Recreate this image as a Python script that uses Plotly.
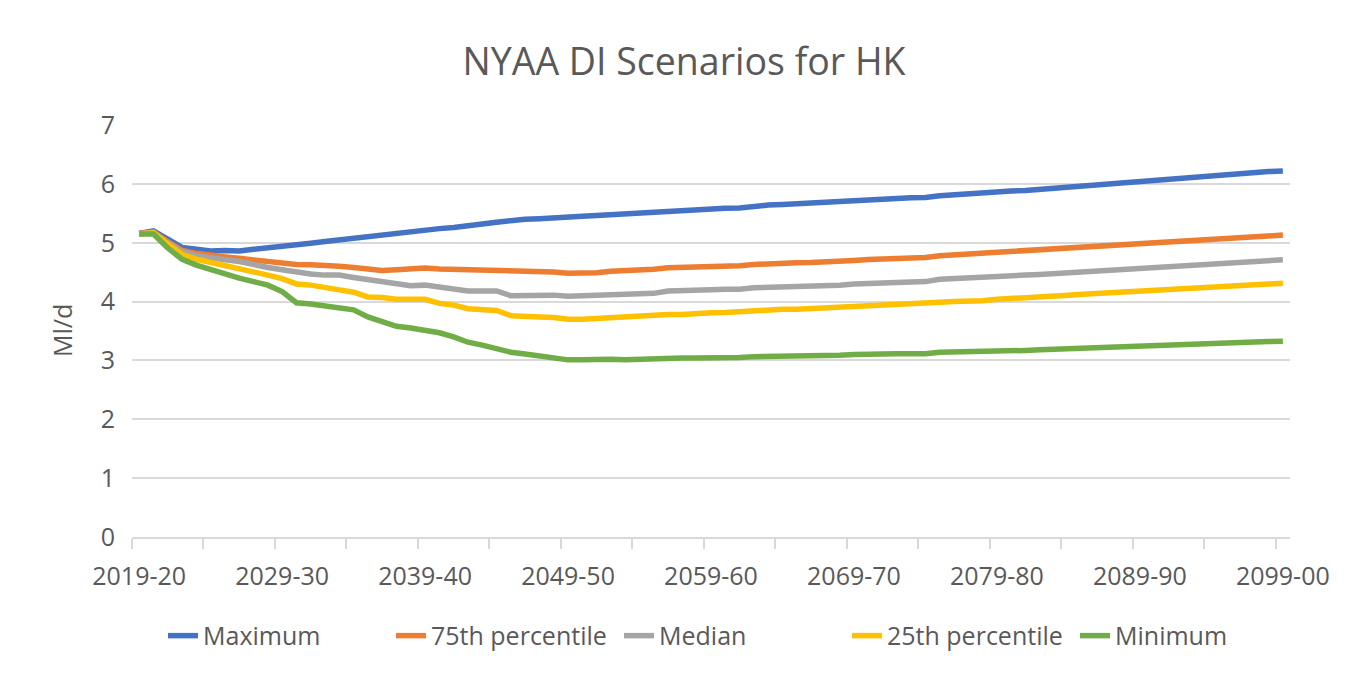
import plotly.graph_objects as go

# Categories: financial years 2019-20 ... 2099-00
years = [f"{y}-{(y + 1) % 100:02d}" for y in range(2019, 2100)]

maximum = [5.16, 5.20, 5.06, 4.92, 4.89, 4.86, 4.87, 4.86, 4.89, 4.91,
           4.93, 4.96, 4.99, 5.02, 5.05, 5.07, 5.10, 5.14, 5.17, 5.20,
           5.23, 5.24, 5.26, 5.28, 5.32, 5.35, 5.38, 5.40, 5.41, 5.43,
           5.44, 5.45, 5.465, 5.48, 5.49, 5.50, 5.51, 5.54, 5.55, 5.56,
           5.575, 5.585, 5.59, 5.62, 5.64, 5.65, 5.66, 5.67, 5.685, 5.70,
           5.715, 5.725, 5.74, 5.75, 5.765, 5.77, 5.80, 5.82, 5.82, 5.85,
           5.87, 5.88, 5.89, 5.91, 5.93, 5.95, 5.97, 5.98, 6.00, 6.02,
           6.04, 6.06, 6.08, 6.10, 6.12, 6.14, 6.16, 6.17, 6.19, 6.21,
           6.22]

p75 = [5.16, 5.18, 5.02, 4.87, 4.82, 4.78, 4.76, 4.735, 4.71, 4.68,
       4.65, 4.63, 4.625, 4.62, 4.60, 4.58, 4.56, 4.53, 4.54, 4.55,
       4.57, 4.555, 4.55, 4.54, 4.54, 4.53, 4.52, 4.515, 4.515, 4.505,
       4.48, 4.48, 4.49, 4.515, 4.52, 4.54, 4.55, 4.575, 4.58, 4.59,
       4.595, 4.60, 4.61, 4.63, 4.645, 4.65, 4.66, 4.665, 4.67, 4.68,
       4.70, 4.715, 4.72, 4.735, 4.745, 4.75, 4.78, 4.795, 4.80, 4.82,
       4.84, 4.86, 4.87, 4.885, 4.90, 4.92, 4.935, 4.95, 4.97, 4.985,
       5.00, 5.015, 5.03, 5.045, 5.06, 5.07, 5.085, 5.095, 5.11, 5.12,
       5.13]

median = [5.15, 5.18, 5.00, 4.85, 4.78, 4.735, 4.71, 4.68, 4.62, 4.58,
          4.54, 4.50, 4.47, 4.45, 4.45, 4.41, 4.38, 4.33, 4.31, 4.27,
          4.28, 4.24, 4.21, 4.18, 4.18, 4.18, 4.10, 4.11, 4.12, 4.11,
          4.09, 4.10, 4.11, 4.13, 4.13, 4.14, 4.14, 4.18, 4.18, 4.19,
          4.20, 4.21, 4.21, 4.235, 4.24, 4.24, 4.25, 4.26, 4.27, 4.28,
          4.30, 4.31, 4.315, 4.325, 4.33, 4.34, 4.38, 4.395, 4.39, 4.405,
          4.42, 4.435, 4.45, 4.46, 4.475, 4.49, 4.505, 4.52, 4.535, 4.55,
          4.565, 4.58, 4.595, 4.61, 4.625, 4.64, 4.655, 4.67, 4.685, 4.70,
          4.71]

p25 = [5.15, 5.17, 4.98, 4.80, 4.72, 4.67, 4.62, 4.565, 4.51, 4.45,
       4.39, 4.30, 4.28, 4.23, 4.20, 4.16, 4.08, 4.07, 4.04, 4.04,
       4.04, 3.97, 3.94, 3.88, 3.86, 3.85, 3.76, 3.74, 3.74, 3.73,
       3.70, 3.70, 3.715, 3.73, 3.73, 3.74, 3.755, 3.78, 3.78, 3.80,
       3.81, 3.815, 3.83, 3.857, 3.86, 3.87, 3.87, 3.88, 3.885, 3.90,
       3.925, 3.935, 3.94, 3.947, 3.95, 3.96, 3.987, 4.00, 4.00, 4.015,
       4.04, 4.05, 4.065, 4.08, 4.095, 4.11, 4.125, 4.14, 4.155, 4.165,
       4.18, 4.195, 4.21, 4.225, 4.24, 4.25, 4.26, 4.275, 4.29, 4.30,
       4.31]

minimum = [5.15, 5.15, 4.91, 4.72, 4.62, 4.54, 4.47, 4.40, 4.34, 4.28,
           4.17, 3.98, 3.96, 3.93, 3.91, 3.86, 3.74, 3.66, 3.58, 3.55,
           3.52, 3.47, 3.40, 3.31, 3.26, 3.20, 3.14, 3.11, 3.08, 3.05,
           3.01, 3.01, 3.02, 3.02, 3.01, 3.02, 3.02, 3.05, 3.04, 3.04,
           3.04, 3.04, 3.05, 3.065, 3.065, 3.065, 3.07, 3.075, 3.08, 3.087,
           3.10, 3.11, 3.11, 3.115, 3.115, 3.115, 3.14, 3.143, 3.14, 3.145,
           3.155, 3.16, 3.17, 3.18, 3.19, 3.20, 3.21, 3.22, 3.23, 3.24,
           3.25, 3.255, 3.265, 3.275, 3.285, 3.29, 3.30, 3.305, 3.315, 3.32,
           3.325]

series_names = ["Maximum", "75th percentile", "Median", "25th percentile", "Minimum"]
series_values = [maximum, p75, median, p25, minimum]
series_colors = ["#4472C4", "#ED7D31", "#A5A5A5", "#FFC000", "#70AD47"]

label_every = 10
tick_labels = years[::label_every]
y_title = "Ml/d"

FONT = "Open Sans"
TXT = "#595959"
GRID = "#D9D9D9"

idx = list(range(len(years)))

fig = go.Figure()
for name, vals, col in zip(series_names, series_values, series_colors):
    fig.add_trace(go.Scatter(
        x=idx, y=vals, name=name, mode="lines",
        line=dict(color=col, width=5.5),
        customdata=years, hovertemplate="%{customdata}: %{y}<extra>" + name + "</extra>",
    ))

n = len(years)
W, H = 1360, 667  # page body has an 8px margin
ML, MR, MT, MB = 124, 78, 117, 138
plot_w = W - ML - MR

fig.update_layout(
    width=W, height=H,
    paper_bgcolor="white", plot_bgcolor="white",
    margin=dict(l=ML, r=MR, t=MT, b=MB, autoexpand=False),
    font=dict(family=FONT, color=TXT, size=25),
    title=dict(text="NYAA DI Scenarios for HK", x=676 / W, xref="container", xanchor="center",
               y=1 - 54 / H, yref="container", yanchor="middle",
               font=dict(family=FONT, size=37.5, color=TXT)),
    xaxis=dict(
        range=[-0.5, n - 0.5], automargin=False, tickangle=0,
        tickmode="array", tickvals=idx[::label_every], ticktext=tick_labels,
        ticks="", showgrid=False, zeroline=False,
        showline=True, linecolor=GRID, linewidth=1.5,
        tickfont=dict(family=FONT, size=25, color=TXT),
        ticklabelstandoff=16,
        minor=dict(ticks="outside", tick0=-0.5, dtick=5, ticklen=10,
                   tickcolor=GRID, tickwidth=1.5, showgrid=False),
    ),
    xaxis2=dict(
        overlaying="x", anchor="y", side="bottom", automargin=False,
        range=[-0.5, n - 0.5], tickmode="linear", tick0=-0.5, dtick=5,
        ticks="inside", ticklen=9, tickcolor=GRID, tickwidth=1.5,
        showticklabels=False, showgrid=False, zeroline=False, showline=False,
    ),
    yaxis=dict(
        range=[0, 7.001], tickmode="linear", tick0=0, dtick=1, automargin=False,
        showgrid=True, gridcolor=GRID, gridwidth=1.5, zeroline=False,
        ticks="", tickfont=dict(family=FONT, size=25, color=TXT),
        ticklabelstandoff=16,
    ),
    annotations=[dict(
        text=y_title, xref="paper", yref="paper",
        x=(54 - ML) / plot_w, y=0.5, xanchor="center", yanchor="middle",
        textangle=-90, showarrow=False,
        font=dict(family=FONT, size=25, color=TXT),
    )],
    legend=dict(orientation="h", xref="container", x=155 / W, xanchor="left",
                yref="paper", y=-0.24, yanchor="middle",
                font=dict(family=FONT, size=25, color=TXT),
                entrywidth=183, entrywidthmode="pixels",
                itemwidth=30, bgcolor="rgba(0,0,0,0)"),
    showlegend=True,
)

fig.write_html("out.html")
